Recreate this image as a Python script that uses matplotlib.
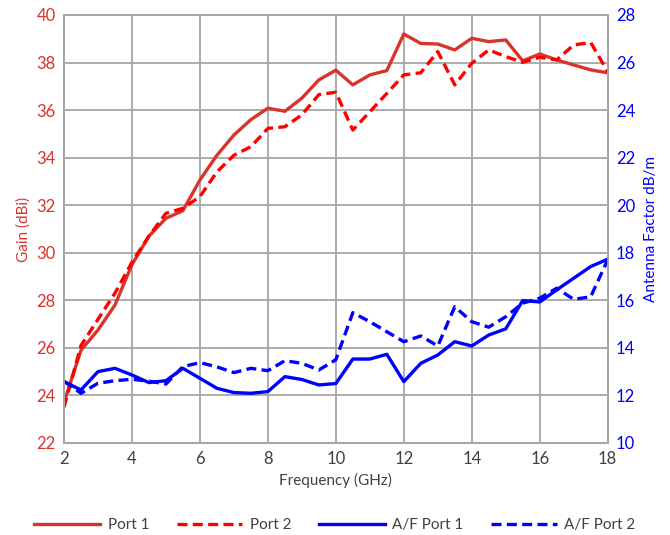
import matplotlib.pyplot as plt

# frequency points (GHz)
freq = [2 + 0.5 * i for i in range(33)]

# gain (dBi)
port1 = [23.7, 25.9, 26.75, 27.8, 29.5, 30.7, 31.45, 31.77, 33.06, 34.1, 34.95, 35.6, 36.08,
         35.95, 36.5, 37.27, 37.68, 37.06, 37.48, 37.66, 39.2, 38.8, 38.78, 38.53, 39.02,
         38.88, 38.95, 38.07, 38.36, 38.11, 37.9, 37.69, 37.57]
port2 = [23.5, 26.1, 27.2, 28.3, 29.6, 30.7, 31.66, 31.87, 32.36, 33.4, 34.1, 34.46, 35.23,
         35.3, 35.8, 36.65, 36.75, 35.16, 35.93, 36.7, 37.48, 37.57, 38.46, 37.06, 37.97,
         38.53, 38.25, 38.01, 38.22, 38.11, 38.74, 38.84, 37.62]

# antenna factor (dB/m)
af_port1 = [12.58, 12.23, 13.0, 13.14, 12.86, 12.54, 12.62, 13.14, 12.72, 12.3, 12.12, 12.09,
            12.16, 12.79, 12.67, 12.44, 12.5, 13.53, 13.53, 13.73, 12.58, 13.35, 13.7, 14.26,
            14.08, 14.54, 14.8, 15.99, 15.93, 16.44, 16.93, 17.42, 17.73]
af_port2 = [12.6, 12.09, 12.51, 12.62, 12.68, 12.6, 12.48, 13.21, 13.38, 13.2, 12.96, 13.14,
            13.04, 13.46, 13.35, 13.07, 13.5, 15.48, 15.1, 14.68, 14.26, 14.5, 14.08, 15.73,
            15.1, 14.87, 15.31, 15.88, 16.09, 16.51, 16.04, 16.15, 17.7]

plt.rcParams['font.family'] = ['Lato', 'DejaVu Sans']

red1 = '#D9342B'
red2 = '#FF0000'
blue = '#0000FF'
grid_c = '#A6A6A6'

fig = plt.figure(figsize=(6.7, 5.35), dpi=100)
ax = fig.add_axes([0.0955, 0.172, 0.8115, 0.8])
ax2 = ax.twinx()

lw = 2.4
l1, = ax.plot(freq, port1, color=red1, lw=lw, label='Port 1')
l2, = ax.plot(freq, port2, color=red2, lw=lw, dashes=(3, 1.6), label='Port 2')
l3, = ax2.plot(freq, af_port1, color=blue, lw=lw, label='A/F Port 1')
l4, = ax2.plot(freq, af_port2, color=blue, lw=lw, dashes=(3, 1.6), label='A/F Port 2')

ax.set_xlim(2, 18)
ax.set_ylim(22, 40)
ax2.set_ylim(10, 28)
ax.set_xticks(range(2, 19, 2))
ax.set_yticks(range(22, 41, 2))
ax2.set_yticks(range(10, 29, 2))

ax.grid(True, color=grid_c, lw=1.3)
ax.set_axisbelow(True)
for a in (ax, ax2):
    for s in a.spines.values():
        s.set_color(grid_c)
        s.set_linewidth(1.3)
    a.tick_params(length=0, labelsize=12, pad=6)

ax.tick_params(axis='y', colors=red1)
ax.tick_params(axis='x', colors='#404040')
ax2.tick_params(axis='y', colors=blue)

ax.set_xlabel('Frequency (GHz)', fontsize=11, color='#404040', labelpad=4)
ax.set_ylabel('Gain (dBi)', fontsize=11, color=red1, labelpad=4)
ax2.set_ylabel('Antenna Factor dB/m', fontsize=11, color=blue, labelpad=6)

fig.legend(handles=[l1, l2, l3, l4], loc='lower center', ncol=4, frameon=False,
           fontsize=11, handlelength=4.3, columnspacing=1.8, handletextpad=0.5,
           bbox_to_anchor=(0.5, -0.02), labelcolor='#404040')

fig.savefig('out.png', dpi=100)
